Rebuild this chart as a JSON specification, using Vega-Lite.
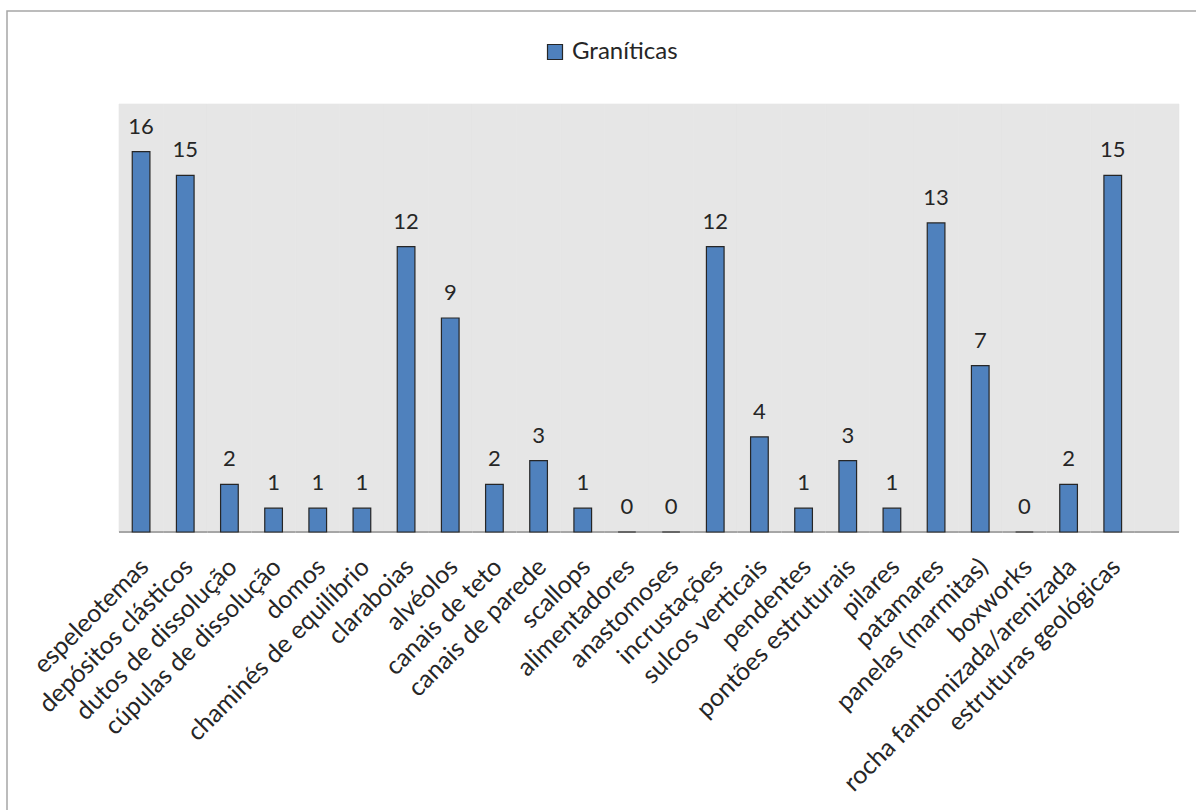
{
  "$schema": "https://vega.github.io/schema/vega-lite/v6.json",
  "width": 1200,
  "height": 810,
  "autosize": {"type": "none"},
  "padding": {"left": 7, "top": 11, "right": -11, "bottom": -11},
  "background": "white",
  "config": {
    "font": "Lato",
    "view": {"stroke": "#A6A6A6", "strokeWidth": 1.5, "fill": "white"}
  },
  "data": {
    "values": [
      {"feicao": "espeleotemas", "valor": 16},
      {"feicao": "depósitos clásticos", "valor": 15},
      {"feicao": "dutos de dissolução", "valor": 2},
      {"feicao": "cúpulas de dissolução", "valor": 1},
      {"feicao": "domos", "valor": 1},
      {"feicao": "chaminés de equilíbrio", "valor": 1},
      {"feicao": "claraboias", "valor": 12},
      {"feicao": "alvéolos", "valor": 9},
      {"feicao": "canais de teto", "valor": 2},
      {"feicao": "canais de parede", "valor": 3},
      {"feicao": "scallops", "valor": 1},
      {"feicao": "alimentadores", "valor": 0},
      {"feicao": "anastomoses", "valor": 0},
      {"feicao": "incrustações", "valor": 12},
      {"feicao": "sulcos verticais", "valor": 4},
      {"feicao": "pendentes", "valor": 1},
      {"feicao": "pontões estruturais", "valor": 3},
      {"feicao": "pilares", "valor": 1},
      {"feicao": "patamares", "valor": 13},
      {"feicao": "panelas (marmitas)", "valor": 7},
      {"feicao": "boxworks", "valor": 0},
      {"feicao": "rocha fantomizada/arenizada", "valor": 2},
      {"feicao": "estruturas geológicas", "valor": 15},
      {"feicao": " ", "valor": null}
    ]
  },
  "encoding": {
    "x": {
      "field": "feicao",
      "type": "nominal",
      "sort": null,
      "scale": {"paddingInner": 0.6, "paddingOuter": 0.3, "range": [112, 1172]},
      "axis": {
        "title": null,
        "domain": false,
        "ticks": false,
        "grid": false,
        "offset": -289,
        "labelAngle": -45,
        "labelFont": "Lato",
        "labelFontSize": 25,
        "labelColor": "#262626",
        "labelPadding": 22,
        "labelOffset": -5,
        "labelLimit": 500,
        "labelOverlap": false
      }
    }
  },
  "layer": [
    {
      "mark": {"type": "bar", "width": {"band": 2.5}, "fill": "#E6E6E6", "stroke": "#E6E6E6", "strokeWidth": 0.6},
      "encoding": {
        "y": {"datum": 18, "type": "quantitative", "axis": null, "scale": {"domain": [0, 18], "range": [521, 93], "nice": false, "zero": false}},
        "y2": {"datum": 0}
      }
    },
    {
      "mark": {"type": "bar", "width": {"band": 2.5}, "fill": "#A6A6A6", "stroke": "#A6A6A6", "strokeWidth": 2},
      "encoding": {
        "y": {"datum": 0, "type": "quantitative", "axis": null},
        "y2": {"datum": 0}
      }
    },
    {
      "mark": {"type": "bar", "stroke": "#262626", "strokeWidth": 1.2},
      "encoding": {
        "y": {"field": "valor", "type": "quantitative", "axis": null},
        "color": {
          "datum": "Graníticas",
          "type": "nominal",
          "scale": {"range": ["#4F81BD"]},
          "legend": {
            "title": null,
            "orient": "none",
            "legendX": 536,
            "legendY": 29,
            "padding": 0,
            "symbolType": "square",
            "symbolSize": 225,
            "symbolStrokeColor": "#262626",
            "symbolStrokeWidth": 1.2,
            "labelFont": "Lato",
            "labelFontSize": 24,
            "labelColor": "#262626",
            "labelOffset": 5
          }
        }
      }
    },
    {
      "mark": {"type": "text", "baseline": "alphabetic", "dy": -18, "fontSize": 22, "font": "Lato", "color": "#262626"},
      "encoding": {
        "y": {"field": "valor", "type": "quantitative", "axis": null},
        "text": {"field": "valor", "type": "quantitative"}
      }
    }
  ]
}
